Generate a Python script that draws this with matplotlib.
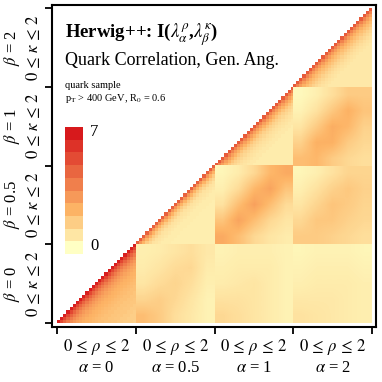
import numpy as np
import matplotlib
matplotlib.use("Agg")
import matplotlib.pyplot as plt
from matplotlib.colors import LinearSegmentedColormap, Normalize

plt.rcParams['font.family'] = ['Liberation Serif', 'DejaVu Serif']
plt.rcParams['mathtext.fontset'] = 'stix'

# angular exponents (blocks) and colour scale
alpha_values = ['0', '0.5', '1', '2']
beta_values = ['0', '0.5', '1', '2']
z_min, z_max = 0, 7
n_bins = 25  # bins of rho (kappa) inside one block

# diagonal blocks (alpha == beta): value vs. bin offset from the diagonal
diag_a0 = [6.8, 5.6, 4.7, 4.0, 3.5, 3.1, 2.8, 2.6, 2.4, 2.3, 2.2, 2.1, 2.0,
           1.9, 1.9, 1.8, 1.8, 1.7, 1.7, 1.6, 1.6, 1.5, 1.5, 1.5, 1.4]
diag_a05 = [4.8, 3.2, 2.3, 1.6, 1.2, 0.9, 0.8, 0.7, 0.6, 0.6, 0.6, 0.5, 0.5,
            0.5, 0.5, 0.5, 0.5, 0.5, 0.5, 0.5, 0.5, 0.5, 0.5, 0.5, 0.5]
diag_a1 = [5.0, 3.7, 2.9, 2.3, 1.8, 1.4, 1.2, 1.0, 0.9, 0.8, 0.7, 0.7, 0.6,
           0.6, 0.6, 0.6, 0.6, 0.6, 0.6, 0.6, 0.6, 0.6, 0.6, 0.6, 0.6]
diag_a2 = [5.0, 3.8, 3.0, 2.4, 2.0, 1.7, 1.4, 1.2, 1.0, 0.9, 0.8, 0.7, 0.7,
           0.7, 0.7, 0.7, 0.7, 0.7, 0.7, 0.7, 0.7, 0.7, 0.7, 0.7, 0.7]

# off-diagonal blocks, coarse read-off (rows: kappa bottom->top, cols: rho left->right)
corr_a05_b0 = [[2.0, 1.6, 1.0, 0.7, 0.4],
               [1.3, 1.5, 1.2, 0.8, 0.4],
               [0.8, 1.1, 1.3, 1.0, 0.5],
               [0.6, 0.8, 1.1, 1.2, 0.6],
               [0.5, 0.6, 0.8, 1.0, 0.7]]
corr_a1_b0 = [[1.2, 1.0, 0.8, 0.6, 0.4],
              [0.9, 0.9, 0.8, 0.6, 0.4],
              [0.6, 0.7, 0.8, 0.6, 0.4],
              [0.5, 0.6, 0.6, 0.6, 0.4],
              [0.4, 0.5, 0.5, 0.5, 0.4]]
corr_a2_b0 = [[0.9, 0.8, 0.7, 0.6, 0.5],
              [0.7, 0.7, 0.7, 0.6, 0.5],
              [0.5, 0.6, 0.6, 0.6, 0.5],
              [0.4, 0.5, 0.5, 0.5, 0.4],
              [0.3, 0.4, 0.4, 0.4, 0.3]]
corr_a1_b05 = [[2.6, 2.0, 1.2, 0.8, 0.6],
               [1.8, 2.8, 2.0, 1.2, 0.8],
               [0.9, 2.0, 2.9, 2.0, 1.1],
               [0.5, 1.1, 2.2, 2.8, 1.8],
               [0.3, 0.6, 1.2, 2.2, 2.6]]
corr_a2_b05 = [[1.6, 1.6, 1.4, 1.2, 1.0],
               [1.2, 1.7, 1.7, 1.4, 1.2],
               [0.8, 1.3, 1.8, 1.6, 1.3],
               [0.5, 0.9, 1.4, 1.7, 1.4],
               [0.3, 0.5, 0.9, 1.3, 1.3]]
corr_a2_b1 = [[2.0, 2.2, 1.6, 1.2, 1.0],
              [1.4, 2.4, 2.4, 1.6, 1.2],
              [0.8, 1.6, 2.5, 2.2, 1.4],
              [0.4, 0.9, 1.7, 2.4, 1.8],
              [0.2, 0.5, 1.0, 1.6, 1.6]]

heat_cmap = LinearSegmentedColormap.from_list(
    "heat", [(0.0, "#ffffc4"), (0.33, "#fdb466"), (1.0, "#d7191c")])
heat_cmap.set_bad("white")
norm = Normalize(z_min, z_max)

fig = plt.figure(figsize=(3.82, 3.82), dpi=100)
ax = fig.add_axes([52 / 382, 55 / 382, 324 / 382, 322 / 382])

# diagonal blocks: keep only the half with rho-bin >= kappa-bin
diag_blocks = [diag_a0, diag_a05, diag_a1, diag_a2]
idx = np.arange(n_bins)
offset = np.subtract.outer(idx, idx).T  # offset[i, j] = j - i
for k, prof in enumerate(diag_blocks):
    prof = np.asarray(prof)
    block = np.where(offset >= 0, prof[np.clip(offset, 0, n_bins - 1)], np.nan)
    ax.imshow(np.ma.masked_invalid(block), cmap=heat_cmap, norm=norm,
              origin="lower", extent=[k, k + 1, k, k + 1],
              interpolation="nearest", aspect="auto")

# off-diagonal blocks (alpha > beta)
off_blocks = [(1, 0, corr_a05_b0), (2, 0, corr_a1_b0), (3, 0, corr_a2_b0),
              (2, 1, corr_a1_b05), (3, 1, corr_a2_b05), (3, 2, corr_a2_b1)]
for a, b, grid in off_blocks:
    ax.imshow(np.asarray(grid), cmap=heat_cmap, norm=norm, origin="lower",
              extent=[a, a + 1, b, b + 1], interpolation="bilinear",
              aspect="auto")

ax.set_xlim(-0.063, 4.05)
ax.set_ylim(-0.05, 4.04)
ax.set_xticks(range(5))
ax.set_yticks(range(5))
ax.set_xticklabels([])
ax.set_yticklabels([])
ax.tick_params(direction="out", length=5, width=1.3, color="black")
for sp in ax.spines.values():
    sp.set_linewidth(1.5)

# block labels
for k, (av, bv) in enumerate(zip(alpha_values, beta_values)):
    ax.text(k + 0.5, -0.305, r"$0\,\leq\,\rho\,\leq\,2$", ha="center",
            va="center", fontsize=12, clip_on=False)
    ax.text(k + 0.5, -0.571, r"$\alpha$ = " + av, ha="center", va="center",
            fontsize=12, clip_on=False)
    ax.text(-0.305, k + 0.5, r"$0\,\leq\,\kappa\,\leq\,2$", ha="center",
            va="center", rotation=90, fontsize=12, clip_on=False)
    ax.text(-0.571, k + 0.5, r"$\beta$ = " + bv, ha="center", va="center",
            rotation=90, fontsize=12, clip_on=False)

# title block
fig.text(65 / 382, 1 - 37.5 / 382,
         r"Herwig++: I($\lambda^{\rho}_{\alpha}$,$\lambda^{\kappa}_{\beta}$)",
         fontsize=13.5, fontweight="bold", va="baseline")
fig.text(65 / 382, 1 - 65 / 382, "Quark Correlation, Gen. Ang.",
         fontsize=13, va="baseline")
fig.text(65 / 382, 1 - 88 / 382, "quark sample", fontsize=7.5, va="baseline")
fig.text(65 / 382, 1 - 101 / 382, r"p$_{\rm T}$ > 400 GeV, R$_0$ = 0.6",
         fontsize=7.5, va="baseline")

# discrete colour legend
cax = fig.add_axes([65 / 382, 1 - 254 / 382, 18 / 382, 127 / 382])
levels = np.linspace(z_min, z_max, 10).reshape(-1, 1)
cax.imshow(levels, cmap=heat_cmap, norm=norm, origin="lower", aspect="auto",
           interpolation="nearest")
cax.set_axis_off()
fig.text(90 / 382, 1 - 132 / 382, str(z_max), fontsize=12, va="center")
fig.text(90 / 382, 1 - 246 / 382, str(z_min), fontsize=12, va="center")

fig.savefig("out.png", dpi=100)
